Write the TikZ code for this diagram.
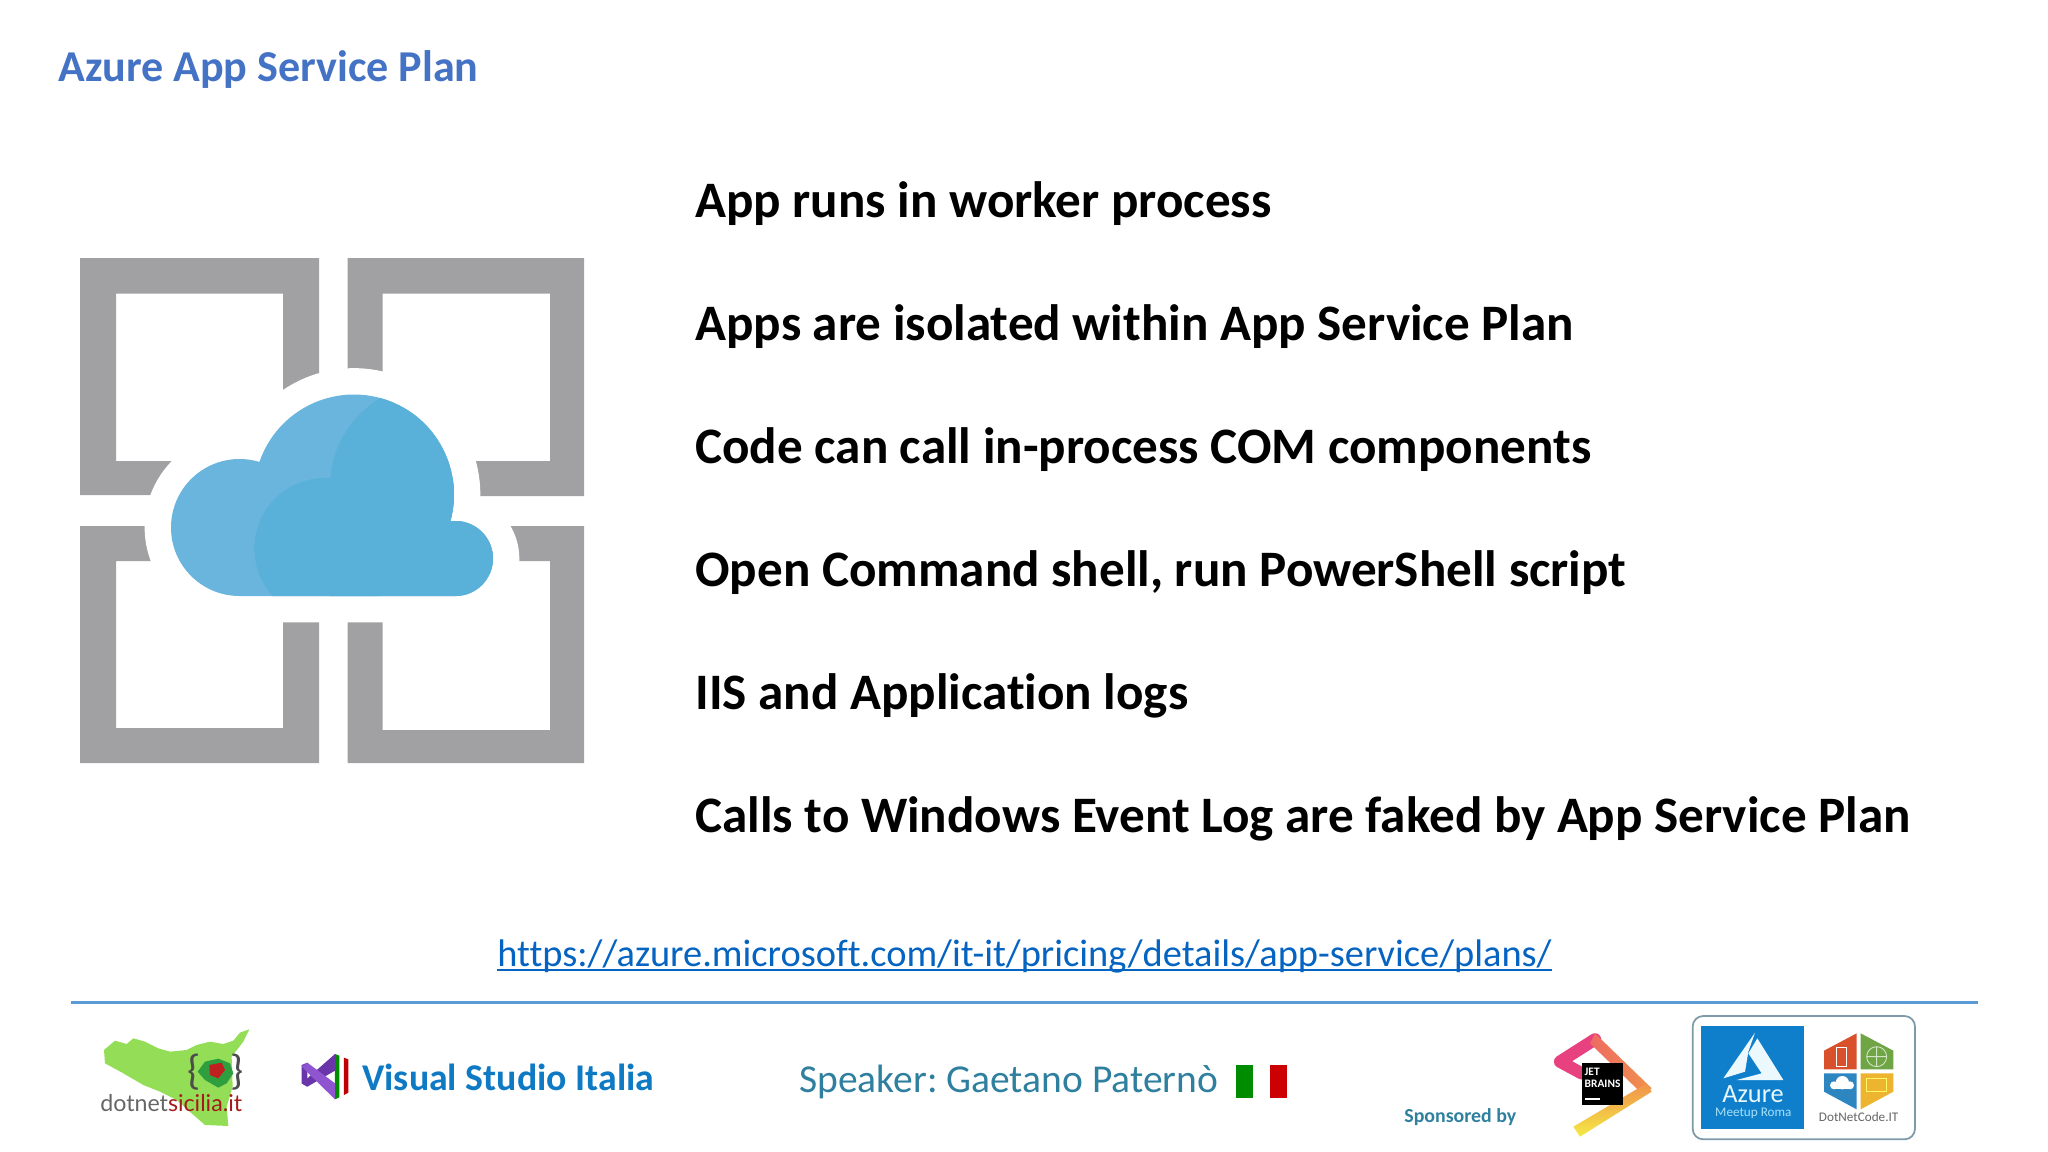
\documentclass[tikz,border=0pt]{standalone}
\usepackage{fontspec}
\setmainfont{Carlito}[Ligatures=CommonOff]
\newfontfamily\latofont{Lato}
\definecolor{titleblue}{HTML}{4472C4}
\definecolor{linkblue}{HTML}{0563C1}
\definecolor{ruleblue}{HTML}{5B9BD5}
\definecolor{framegray}{HTML}{A1A1A3}
\definecolor{cloudlight}{HTML}{69B5DD}
\definecolor{clouddark}{HTML}{59B1D9}
\definecolor{sicilygreen}{HTML}{93DD57}
\definecolor{sicilydark}{HTML}{2E9E3E}
\definecolor{sicilyred}{HTML}{C0201F}
\definecolor{vsblue}{HTML}{0E7AC4}
\definecolor{vsdark}{HTML}{6A35A8}
\definecolor{vslight}{HTML}{8F55D0}
\definecolor{speakerblue}{HTML}{2F7F9F}
\definecolor{azureblue}{HTML}{0F7FCB}
\definecolor{boxgray}{HTML}{7E9AA8}
\definecolor{jbpink}{HTML}{E8417F}
\definecolor{jbcoral}{HTML}{EE6A62}
\definecolor{jborange}{HTML}{F0924B}
\definecolor{jbyellow}{HTML}{F5EA45}
\definecolor{hexred}{HTML}{D9512C}
\definecolor{hexgreen}{HTML}{6FA544}
\definecolor{hexblue}{HTML}{2E86C1}
\definecolor{hexyellow}{HTML}{EDB42F}
\tikzset{
  every node/.style={inner sep=0pt},
  titletext/.style={anchor=base west,text=titleblue,font=\fontsize{25.1}{30}\selectfont\bfseries},
  bullettext/.style={anchor=base west,text=black,font=\fontsize{29.1}{35}\selectfont\bfseries},
  linktext/.style={anchor=base west,text=linkblue,font=\fontsize{21.87}{27}\selectfont},
  framepart/.style={fill=framegray,even odd rule},
  footertext/.style={anchor=base west,text=speakerblue}
}
\newcommand{\cloudoutline}{(239.5,-596) arc[start angle=270,end angle=73.1,radius=68.5] arc[start angle=161,end angle=-15.6,radius=100] arc[start angle=98,end angle=-90,radius=37.5] -- cycle}
\begin{document}
\frenchspacing
\begin{tikzpicture}[x=0.02cm,y=0.02cm]
\useasboundingbox (0,0) rectangle (2048,-1152);
% title
\node [titletext] (title) at (58,-82) {Azure App Service Plan};
% icon
\fill [framepart] (80,-258) rectangle (319,-495) (116,-293.5) rectangle (283,-461);
\fill [framepart] (347.5,-258) rectangle (584,-496) (382.5,-293.5) rectangle (550,-461);
\fill [framepart] (80,-526) rectangle (319,-763) (116,-561) rectangle (283,-728);
\fill [framepart] (347.5,-526) rectangle (584,-763) (382.5,-561) rectangle (550,-730);
\draw [white,line width=30pt,line join=round] \cloudoutline;
\fill [cloudlight] \cloudoutline;
\begin{scope}
\clip \cloudoutline;
\fill [clouddark] (325,-548.6) circle (70.6);
\fill [clouddark] (434,-487) circle (104);
\fill [clouddark] (330,-478) rectangle (500,-600);
\end{scope}
% text lines
\node [bullettext] (line1) at (695,-217) {App runs in worker process};
\node [bullettext] (line2) at (695,-340) {Apps are isolated within App Service Plan};
\node [bullettext] (line3) at (695,-463) {Code can call in-process COM components};
\node [bullettext] (line4) at (695,-586) {Open Command shell, run PowerShell script};
\node [bullettext] (line5) at (695,-709) {IIS and Application logs};
\node [bullettext] (line6) at (695,-832) {Calls to Windows Event Log are faked by App Service Plan};
\node [linktext] (link) at (497,-966) {https://azure.microsoft.com/it-it/pricing/details/app-service/plans/};
\draw [linkblue,line width=0.8pt] ([yshift=-2.2pt]link.base west) -- ([yshift=-2.2pt]link.base east);
\draw [ruleblue,line width=1.7pt] (71,-1002) -- (1978,-1002);
% dotnetsicilia logo
\begin{scope}[shift={(90,-1020)},xscale=0.3333,yscale=-0.3333]
\fill [sicilygreen] (478,28) -- (450,38) -- (430,62) -- (400,72) -- (360,65) -- (320,75) -- (290,90) -- (240,95) -- (205,85) -- (165,65) -- (130,55) -- (110,72) -- (75,62) -- (42,90) -- (45,130) -- (100,160) -- (160,195) -- (210,215) -- (260,240) -- (305,280) -- (345,315) -- (415,318) -- (410,260) -- (428,200) -- (425,110) -- (460,65) -- cycle;
\fill [sicilydark] (345,125) -- (385,116) -- (420,130) -- (430,160) -- (410,190) -- (385,203) -- (345,180) -- (323,155) -- cycle;
\fill [sicilyred] (358,135) -- (395,128) -- (405,150) -- (385,175) -- (360,165) -- cycle;
\node [text=black!70,font=\fontsize{24}{28}\selectfont] (bracel) at (313,155) {\{};
\node [text=black!70,font=\fontsize{24}{28}\selectfont] (bracer) at (441,155) {\}};
\node [anchor=base west,font=\latofont\fontsize{13.2}{16}\selectfont] (dotnet) at (30,275) {\textcolor{black!60}{dotnet}\textcolor{sicilyred!85!black}{sicilia.it}};
\end{scope}
% visual studio logo
\begin{scope}[shift={(290,-1040)},xscale=0.3333,yscale=-0.3333]
\fill [green!55!black] (135,42) -- (148,47) -- (148,172) -- (135,178) -- cycle;
\fill [red!75!black] (162,53) -- (175,58) -- (175,158) -- (162,165) -- cycle;
\fill [vsdark] (35,75) -- (52,68) -- (52,140) -- (35,130) -- cycle;
\fill [vsdark] (135,42) -- (135,92) -- (52,140) -- (35,130) -- cycle;
\fill [vslight] (52,68) -- (135,130) -- (135,178) -- (35,80) -- cycle;
\end{scope}
\node [anchor=base west,text=vsblue,font=\fontsize{21.5}{26}\selectfont\bfseries] (vstudio) at (362,-1090) {Visual Studio Italia};
% speaker
\node [footertext,font=\fontsize{22.5}{28}\selectfont] (speaker) at (799,-1092) {Speaker: Gaetano Paternò};
\fill [green!55!black] (1236,-1065) rectangle (1253,-1098);
\fill [red!80!black] (1270,-1065) rectangle (1287,-1098);
\node [footertext,font=\fontsize{11.3}{14}\selectfont\bfseries] (sponsored) at (1404,-1122) {Sponsored by};
% jetbrains logo
\begin{scope}[shift={(1540,-1020)},xscale=0.3333,yscale=-0.3333]
\draw [line width=7pt,line join=round,line cap=round,color=jbpink] (125,160) -- (60,125) -- (165,58);
\shade [left color=jbcoral,right color=jborange] (165,40) -- (335,205) -- (310,225) -- (150,70) -- cycle;
\shade [top color=jborange,bottom color=jbyellow] (320,190) -- (335,215) -- (120,350) -- (100,320) -- cycle;
\fill [black] (125,130) rectangle (248,255);
\fill [white] (135,233) rectangle (180,240);
\node [text=white,font=\fontsize{6.5}{7}\selectfont\bfseries,align=left,anchor=north west] (jbtext) at (133,143) {JET\\BRAINS};
\end{scope}
% azure and dotnetcode logos
\begin{scope}[shift={(1680,-1010)},xscale=0.3333,yscale=-0.3333]
\draw [boxgray,line width=1pt,rounded corners=6pt,fill=white] (38,18) rectangle (705,388);
\fill [azureblue] (62,47) rectangle (372,358);
\fill [cyan!8!white] (225,68) -- (130,205) -- (195,185) -- (205,125) -- cycle;
\fill [cyan!8!white] (232,85) -- (310,210) -- (170,210) -- (245,190) -- (205,130) -- cycle;
\node [anchor=base,text=cyan!10!white,font=\fontsize{15}{18}\selectfont] (azure) at (219,278) {Azure};
\node [anchor=base,text=cyan!35!white,font=\fontsize{7.5}{9}\selectfont] (meetup) at (220,320) {Meetup Roma};
\fill [hexred] (530,70) -- (530,178) -- (432,178) -- (432,122) -- cycle;
\fill [hexgreen] (542,70) -- (640,122) -- (640,178) -- (542,178) -- cycle;
\fill [hexblue] (432,190) -- (530,190) -- (530,298) -- (432,245) -- cycle;
\fill [hexyellow] (542,190) -- (640,190) -- (640,245) -- (542,298) -- cycle;
\draw [white,line width=0.7pt] (470,112) rectangle (500,170);
\draw [white!70!hexgreen,line width=0.5pt] (590,140) circle (30) (560,140) -- (620,140) (590,110) -- (590,170);
\fill [white] (462,226) circle (12);
\fill [white] (487,218) circle (20);
\fill [white] (510,226) circle (12);
\fill [white] (462,226) rectangle (510,238);
\draw [yellow!60!white,line width=0.6pt] (560,205) rectangle (620,245);
\node [anchor=base,text=black!60,font=\fontsize{7.5}{9}\selectfont] (dotnetcode) at (536,335) {DotNetCode.IT};
\end{scope}
\end{tikzpicture}
\end{document}
